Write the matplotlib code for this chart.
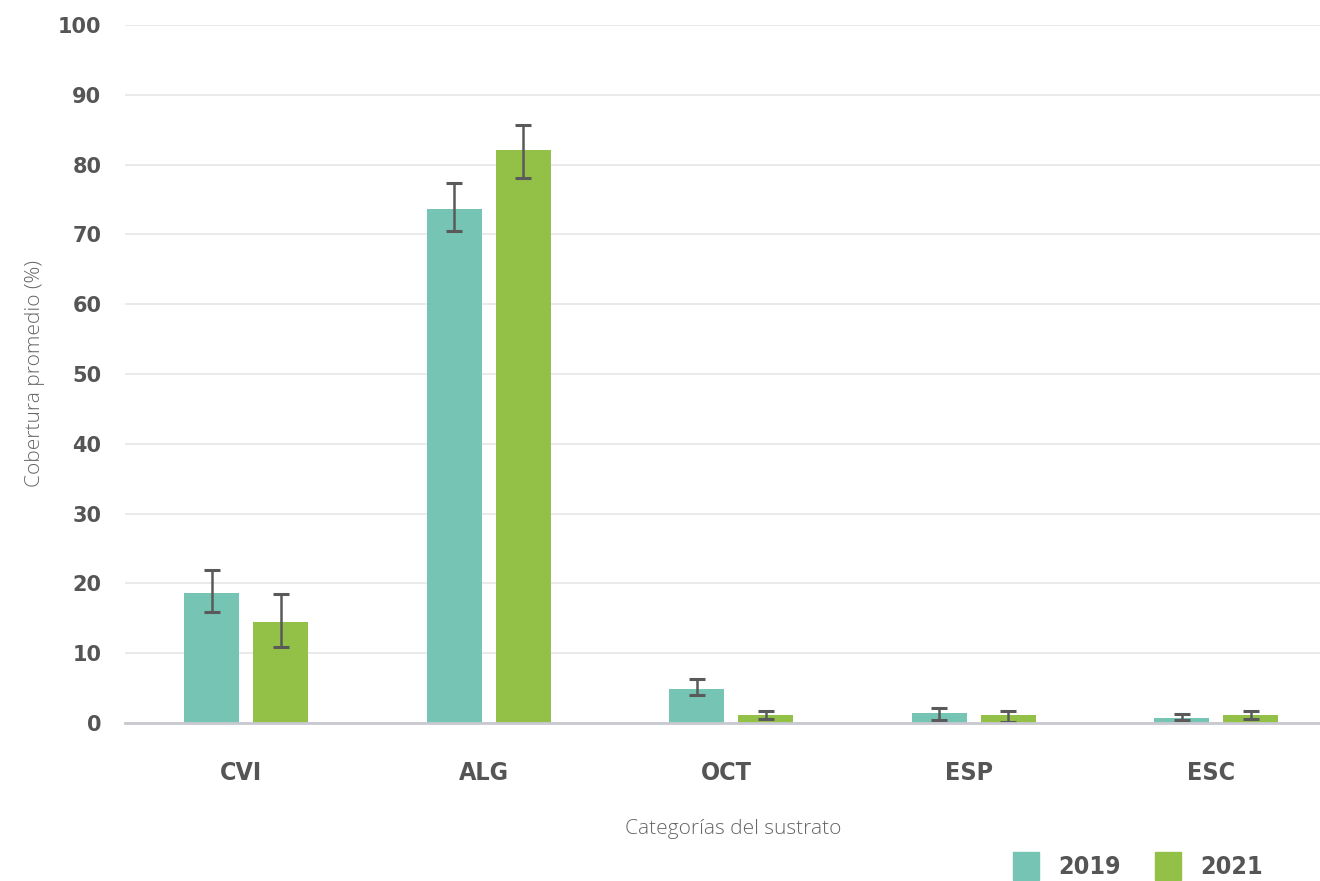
import numpy as np
import matplotlib.pyplot as plt
from matplotlib.patches import Patch

# Cobertura promedio por categoría de sustrato
categorias = ['CVI', 'ALG', 'OCT', 'ESP', 'ESC']
cob_2019 = [18.6, 73.6, 4.9, 1.4, 0.7]
cob_2021 = [14.5, 82.1, 1.15, 1.15, 1.15]
# error inferior / superior
err_2019_lo = [2.7, 3.1, 0.9, 0.9, 0.2]
err_2019_hi = [3.3, 3.8, 1.4, 0.7, 0.6]
err_2021_lo = [3.6, 4.0, 0.55, 0.95, 0.55]
err_2021_hi = [4.0, 3.6, 0.55, 0.55, 0.55]

c19 = '#76c4b4'
c21 = '#93c147'
txt = '#555555'

fig = plt.figure(figsize=(13.2, 8.81), dpi=100)
W, H = 1320, 881
ax = fig.add_axes([125 / W, 1 - 723 / H, (1337.5 - 125) / W, (723 - 25) / H])

x = np.arange(len(categorias))
w = 0.227
off = 0.142
ax.bar(x - off, cob_2019, w, color=c19, zorder=2,
       yerr=[err_2019_lo, err_2019_hi], capsize=6,
       error_kw=dict(ecolor='#5a5a5a', elinewidth=1.8, capthick=2.2))
ax.bar(x + off, cob_2021, w, color=c21, zorder=2,
       yerr=[err_2021_lo, err_2021_hi], capsize=6,
       error_kw=dict(ecolor='#5a5a5a', elinewidth=1.8, capthick=2.2))

ax.set_xlim(-0.5, 4.5)
ax.set_ylim(0, 100)
ax.set_yticks(np.arange(0, 101, 10))
ax.grid(axis='y', color='#e6e6e6', linewidth=1.2, zorder=0)
ax.set_axisbelow(True)
for s in ['top', 'right', 'left']:
    ax.spines[s].set_visible(False)
ax.spines['bottom'].set_color('#c8c8d0')
ax.spines['bottom'].set_linewidth(2)
ax.spines['bottom'].set_zorder(3)

ax.tick_params(axis='both', length=0)
ax.tick_params(axis='y', pad=17, labelsize=15, labelcolor=txt)
ax.tick_params(axis='x', pad=27, labelsize=18, labelcolor=txt)
ax.set_xticks(x - 0.02)
ax.set_xticklabels(categorias, fontweight='bold', fontstretch='condensed')
for lab in ax.get_yticklabels():
    lab.set_fontweight('bold')

fig.text(733 / W, 1 - 829 / H, 'Categorías del sustrato', ha='center', va='center',
         fontsize=15, color='#666666', fontfamily='Open Sans', fontweight='light')
fig.text(35 / W, 1 - 374 / H, 'Cobertura promedio (%)', ha='center', va='center',
         rotation=90, fontsize=15, color='#666666', fontfamily='Open Sans', fontweight='light')

handles = [Patch(color=c19, label='2019'), Patch(color=c21, label='2021')]
leg = fig.legend(handles=handles, loc='center', bbox_to_anchor=(1138 / W, 1 - 866 / H),
                 ncol=2, frameon=False, handlelength=1.05, handleheight=1.3,
                 handletextpad=0.76, columnspacing=1.36, borderpad=0, borderaxespad=0,
                 prop=dict(weight='bold', size=18, stretch='condensed'))
for t in leg.get_texts():
    t.set_color(txt)

fig.savefig('out.png', dpi=100)
